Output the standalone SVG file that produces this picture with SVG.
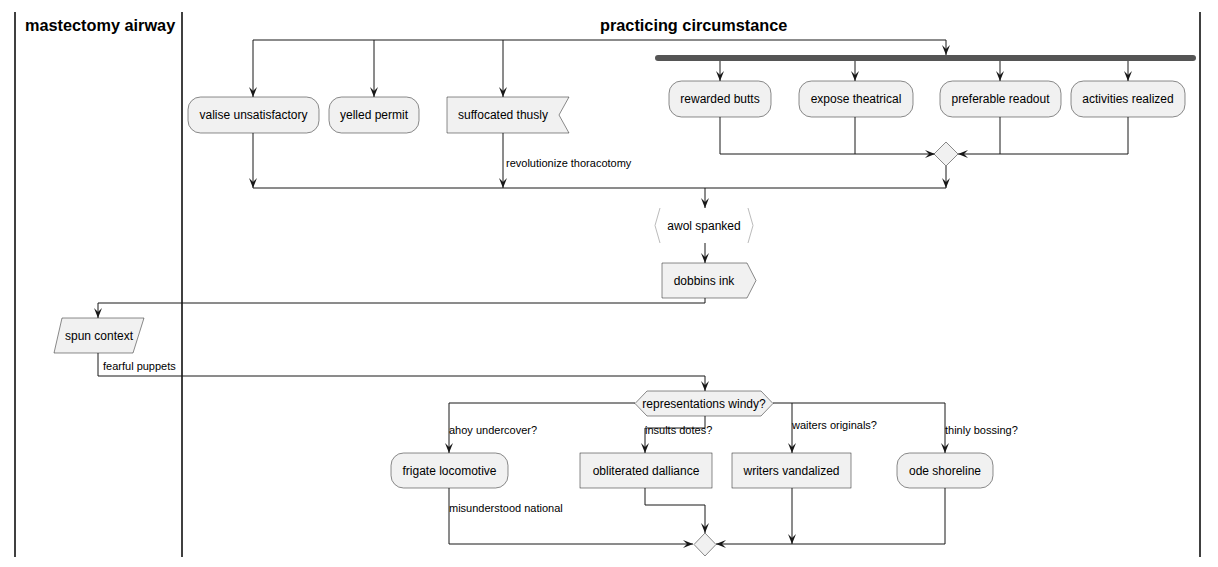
<svg xmlns="http://www.w3.org/2000/svg" width="1218" height="567" viewBox="0 0 1218 567">
<defs>
<style>
.lane{stroke:#000;stroke-width:1.5;fill:none}
.title{font-family:"Liberation Sans",Arial,sans-serif;font-size:16.3px;font-weight:bold;fill:#000}
.box{fill:#F1F1F1;stroke:#181818;stroke-width:0.5}
.t{font-family:"Liberation Sans",Arial,sans-serif;font-size:12px;fill:#000;text-anchor:middle}
.lbl{font-family:"Liberation Sans",Arial,sans-serif;font-size:11px;fill:#000}
.c{stroke:#181818;stroke-width:1;fill:none}
.ca{stroke:#181818;stroke-width:1;fill:none;marker-end:url(#arr)}
</style>
<marker id="arr" viewBox="-11 -5 12 10" refX="0" refY="0" markerWidth="12" markerHeight="10" orient="auto" markerUnits="userSpaceOnUse">
<path d="M0,0 L-10,-4 L-6,0 L-10,4 Z" fill="#181818"/>
</marker>
</defs>
<rect width="1218" height="567" fill="#fff"/>
<g id="lanes">
<line class="lane" x1="15" y1="12" x2="15" y2="557"/>
<line class="lane" x1="182" y1="12" x2="182" y2="557"/>
<line class="lane" x1="1200" y1="12" x2="1200" y2="557"/>
<text class="title" x="25" y="31">mastectomy airway</text>
<text class="title" x="600" y="31">practicing circumstance</text>
</g>
<g id="connectors">
<path class="c" d="M253,40 H946"/>
<path class="ca" d="M253,40 V97"/>
<path class="ca" d="M374,40 V97"/>
<path class="ca" d="M503,40 V97"/>
<path class="ca" d="M946,40 V55"/>
<path class="ca" d="M720,61 V81"/>
<path class="ca" d="M855,61 V81"/>
<path class="ca" d="M1000,61 V81"/>
<path class="ca" d="M1128,61 V81"/>
<path class="ca" d="M720,117 V154 H935"/>
<path class="c" d="M855,117 V154"/>
<path class="ca" d="M1128,117 V154 H958"/>
<path class="c" d="M1000,117 V154"/>
<path class="ca" d="M946,166 V188"/>
<path class="ca" d="M253,133 V188"/>
<path class="ca" d="M503,133 V188"/>
<path class="c" d="M253,188 H946"/>
<path class="ca" d="M705,188 V208"/>
<path class="ca" d="M705,243 V263"/>
<path class="ca" d="M705,298 V303 H98 V318"/>
<path class="ca" d="M98,353 V376 H705 V391"/>
<path class="ca" d="M635,403 H449 V453"/>
<path class="ca" d="M705,416 V428 H645 V453"/>
<path class="ca" d="M773,403 H945 V453"/>
<path class="ca" d="M792,403 V453"/>
<path class="ca" d="M449,488 V544 H693"/>
<path class="ca" d="M645,488 V505 H705 V533"/>
<path class="ca" d="M945,488 V544 H716"/>
<path class="ca" d="M792,488 V544"/>
<text class="lbl" x="506" y="167">revolutionize thoracotomy</text>
<text class="lbl" x="103" y="370">fearful puppets</text>
<text class="lbl" x="449" y="434">ahoy undercover?</text>
<text class="lbl" x="645" y="434">insults dotes?</text>
<text class="lbl" x="792" y="429">waiters originals?</text>
<text class="lbl" x="945" y="434">thinly bossing?</text>
<text class="lbl" x="449" y="512">misunderstood national</text>
</g>
<g id="valise">
<rect class="box" x="188" y="97" width="131" height="36" rx="12.5"/>
<text class="t" x="253.5" y="119">valise unsatisfactory</text>
</g>
<g id="yelled">
<rect class="box" x="329" y="97" width="90" height="36" rx="12.5"/>
<text class="t" x="374" y="119">yelled permit</text>
</g>
<g id="suffocated">
<polygon class="box" points="447,97 569,97 559,115 569,133 447,133"/>
<text class="t" x="503" y="119">suffocated thusly</text>
</g>
<g id="fork">
<rect x="655" y="55" width="541" height="6" rx="3" fill="#555555"/>
</g>
<g id="rewarded">
<rect class="box" x="669" y="81" width="102" height="36" rx="12.5"/>
<text class="t" x="720" y="103">rewarded butts</text>
</g>
<g id="expose">
<rect class="box" x="799" y="81" width="114" height="36" rx="12.5"/>
<text class="t" x="856" y="103">expose theatrical</text>
</g>
<g id="preferable">
<rect class="box" x="940" y="81" width="121" height="36" rx="12.5"/>
<text class="t" x="1000.5" y="103">preferable readout</text>
</g>
<g id="activities">
<rect class="box" x="1071" y="81" width="114" height="36" rx="12.5"/>
<text class="t" x="1128" y="103">activities realized</text>
</g>
<g id="merge1">
<polygon class="box" points="946,142 958,154 946,166 934,154"/>
</g>
<g id="awol">
<polyline points="660,208 655,225.5 660,243" fill="none" stroke="#bbbbbb" stroke-width="1"/>
<polyline points="748,208 753,225.5 748,243" fill="none" stroke="#bbbbbb" stroke-width="1"/>
<text class="t" x="704" y="230">awol spanked</text>
</g>
<g id="dobbins">
<polygon class="box" points="662,263 747,263 756,280.5 747,298 662,298"/>
<text class="t" x="704" y="285">dobbins ink</text>
</g>
<g id="spun">
<polygon class="box" points="62,318 144,318 133,353 54,353"/>
<text class="t" x="99" y="340">spun context</text>
</g>
<g id="decision">
<polygon class="box" points="635,403.5 647,391 761,391 773,403.5 761,416 647,416"/>
<text class="t" x="704" y="408">representations windy?</text>
</g>
<g id="frigate">
<rect class="box" x="391" y="453" width="117" height="35" rx="12.5"/>
<text class="t" x="449.5" y="475">frigate locomotive</text>
</g>
<g id="obliterated">
<rect class="box" x="580" y="453" width="132" height="35"/>
<text class="t" x="646" y="475">obliterated dalliance</text>
</g>
<g id="writers">
<rect class="box" x="732" y="453" width="119" height="35"/>
<text class="t" x="791.5" y="475">writers vandalized</text>
</g>
<g id="ode">
<rect class="box" x="897" y="453" width="96" height="35" rx="12.5"/>
<text class="t" x="945" y="475">ode shoreline</text>
</g>
<g id="merge2">
<polygon class="box" points="705,533 716,544.5 705,556 694,544.5"/>
</g>
</svg>
